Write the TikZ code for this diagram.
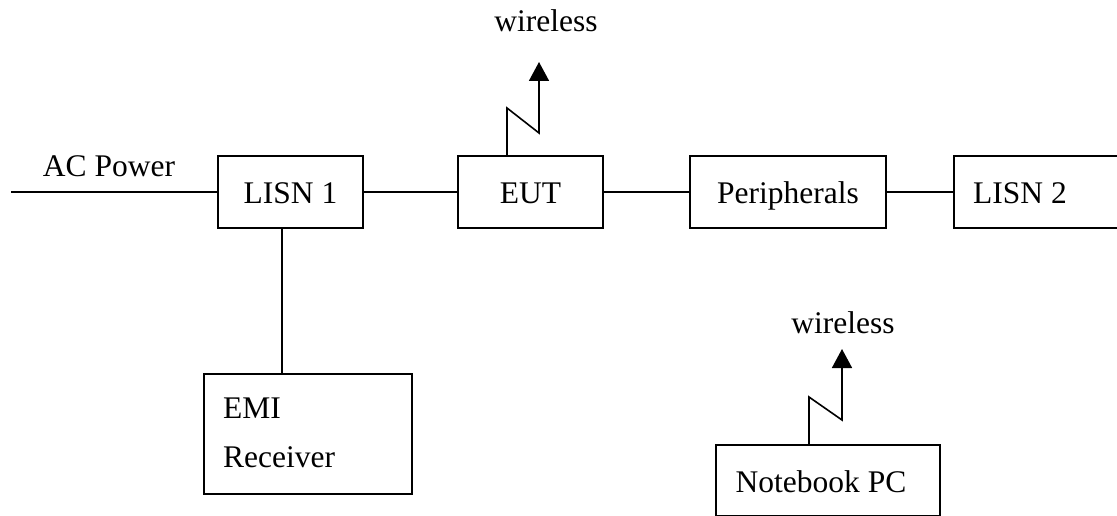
\documentclass[tikz,border=0pt]{standalone}
\usepackage{fontspec}
\setmainfont{Liberation Serif}
\usetikzlibrary{arrows.meta}
\begin{document}
\begin{tikzpicture}[x=1pt,y=-1pt,
  box/.style={draw,line width=1.6pt,inner sep=0pt,minimum height=72pt},
  lbl/.style={inner sep=0pt,anchor=base,font=\fontsize{31.5}{37}\selectfont},
  wire/.style={line width=1.5pt},
  ant/.style={line width=1.6pt,-{Triangle[length=19pt,width=20pt]}}]
\useasboundingbox (0,0) rectangle (1117,516);
\clip (0,0) rectangle (1117,516);
% boxes
\node[box,minimum width=145pt] (lisn1) at (290.5,192) {};
\node[box,minimum width=145pt] (eut) at (530.5,192) {};
\node[box,minimum width=196pt] (peri) at (788,192) {};
\node[box,minimum width=180pt,anchor=west] (lisn2) at (953,192) {};
\node[box,minimum width=208pt,minimum height=120pt,anchor=north west] (emi) at (203,373) {};
\node[box,minimum width=224pt,minimum height=70.5pt,anchor=north west] (nb) at (715,444) {};
% texts
\node[lbl] (acp) at (109,176) {AC Power};
\node[lbl] (tl1) at (290.5,204) {LISN 1};
\node[lbl] (teut) at (530.5,204) {EUT};
\node[lbl] (tperi) at (788,204) {Peripherals};
\node[lbl] (tl2) at (1020,204) {LISN 2};
\node[lbl,anchor=base west] (temi1) at (223,418) {EMI};
\node[lbl,anchor=base west] (temi2) at (223,467) {Receiver};
\node[lbl] (tnb) at (821,492) {Notebook PC};
\node[lbl] (w1) at (546,32) {wireless};
\node[lbl] (w2) at (843,333) {wireless};
% connectors
\coordinate (acstart) at (11,192);
\draw[wire] (acstart) -- (lisn1.west);
\draw[wire] (lisn1.east) -- (eut.west);
\draw[wire] (eut.east) -- (peri.west);
\draw[wire] (peri.east) -- (lisn2.west);
\coordinate (vx) at (282,0);
\draw[wire] (vx |- lisn1.south) -- (vx |- emi.north);
% antennas
\coordinate (a1) at (507,108);
\coordinate (a2) at (539,133);
\coordinate (a3) at (539,62);
\draw[ant] (a1 |- eut.north) -- (a1) -- (a2) -- (a3);
\coordinate (b1) at (809,397);
\coordinate (b2) at (842,420);
\coordinate (b3) at (842,349);
\draw[ant] (b1 |- nb.north) -- (b1) -- (b2) -- (b3);
\end{tikzpicture}
\end{document}
